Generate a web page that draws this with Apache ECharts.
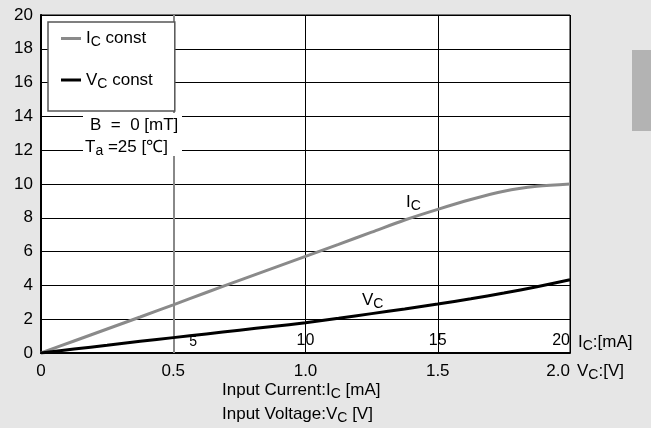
<!DOCTYPE html>
<html><head><meta charset="utf-8">
<script src="https://cdn.jsdelivr.net/npm/echarts@6/dist/echarts.min.js"></script>
<style>html,body{margin:0;padding:0;background:#e6e6e6;}#c{width:651px;height:428px;}</style>
</head><body><div id="c"></div>
<script>
var xValues = [0, 0.125, 0.25, 0.375, 0.5, 0.625, 0.75, 0.875, 1.0, 1.125, 1.25, 1.375, 1.5, 1.625, 1.75, 1.875, 2.0];
var icConst = [0, 0.71, 1.42, 2.13, 2.85, 3.58, 4.3, 5.01, 5.72, 6.43, 7.15, 7.87, 8.5, 9.08, 9.57, 9.86, 10.0];
var vcConst = [0, 0.23, 0.46, 0.69, 0.91, 1.13, 1.35, 1.57, 1.79, 2.05, 2.33, 2.61, 2.9, 3.21, 3.55, 3.92, 4.33];
var yTicks = [0, 2, 4, 6, 8, 10, 12, 14, 16, 18, 20];
var vTicks = ['0', '0.5', '1.0', '1.5', '2.0'];
var iTicks = ['', '5', '10', '15', '20'];

var FONT = 'Liberation Sans, Arial, sans-serif';
var rich = {
  n: {fontSize: 17, fontFamily: FONT, color: '#000'},
  s: {fontSize: 14, fontFamily: FONT, color: '#000', padding: [8, 0, 0, 0]}
};
function pairs(ys) { return xValues.map(function (x, i) { return [x, ys[i]]; }); }

var chart = echarts.init(document.getElementById('c'), null, {renderer: 'canvas'});
chart.setOption({
  backgroundColor: '#e6e6e6',
  animation: false,
  grid: {left: 41, top: 15, right: 81, bottom: 75, show: true, backgroundColor: '#fff', borderColor: '#000', borderWidth: 1},
  legend: {
    left: 48, top: 22, orient: 'vertical',
    backgroundColor: '#fff', borderColor: '#555', borderWidth: 1.5,
    padding: [8, 22, 20, 13], itemGap: 22, itemWidth: 20, itemHeight: 3, icon: 'rect',
    textStyle: {fontSize: 17, fontFamily: FONT, color: '#000', rich: rich},
    formatter: function (name) { return name === 'Ic' ? '{n|I}{s|C}{n| const}' : '{n|V}{s|C}{n| const}'; },
    data: ['Ic', 'Vc']
  },
  xAxis: [{
    type: 'value', min: 0, max: 2, interval: 0.5, position: 'bottom',
    axisLine: {show: true, lineStyle: {color: '#000', width: 2}},
    axisTick: {show: false},
    axisLabel: {margin: 10, fontSize: 17, fontFamily: FONT, color: '#000', alignMaxLabel: 'right',
      formatter: function (v) { return vTicks[Math.round(v / 0.5)]; }},
    splitLine: {show: true, lineStyle: {color: ['#000', '#888', '#000', '#000', '#000'], width: 1}}
  }, {
    type: 'value', min: 0, max: 20, interval: 5, position: 'bottom',
    axisLine: {show: false}, axisTick: {show: false}, splitLine: {show: false},
    axisLabel: {inside: true, margin: 4, fontSize: 16, fontFamily: FONT, color: '#000', alignMaxLabel: 'right',
      formatter: function (v) {
        var t = iTicks[Math.round(v / 5)];
        if (t === '5') return '{f|' + t + '}';
        return t;
      },
      rich: {f: {fontSize: 14, fontFamily: FONT, color: '#000', padding: [5, 0, 0, 40]}}
    }
  }],
  yAxis: [{
    type: 'value', min: 0, max: 20, interval: 2,
    axisLine: {show: true, lineStyle: {color: '#000', width: 1.5}},
    axisTick: {show: false},
    axisLabel: {margin: 8, fontSize: 17, fontFamily: FONT, color: '#000'},
    splitLine: {show: true, lineStyle: {color: '#000', width: 1}}
  }, {
    type: 'value', min: 0, max: 20, interval: 2, position: 'right',
    axisLine: {show: true, lineStyle: {color: '#000', width: 2}},
    axisTick: {show: false}, axisLabel: {show: false}, splitLine: {show: false}
  }],
  series: [{
    name: 'Ic', type: 'line', smooth: 0.3, symbol: 'none', data: pairs(icConst),
    lineStyle: {color: '#8a8a8a', width: 3}, itemStyle: {color: '#8a8a8a'}, z: 3,
    markLine: {silent: true, symbol: 'none', label: {show: false},
      lineStyle: {color: '#888', width: 2, type: 'solid'}, data: [{xAxis: 0.5}], z: 1}
  }, {
    name: 'Vc', type: 'line', smooth: 0.3, symbol: 'none', data: pairs(vcConst),
    lineStyle: {color: '#000', width: 3}, itemStyle: {color: '#000'}, z: 4
  }],
  graphic: [
    {type: 'rect', left: 632, top: 50, shape: {width: 19, height: 81}, style: {fill: '#b3b3b3'}},
    {type: 'rect', left: 83, top: 113, shape: {width: 99, height: 43}, style: {fill: '#fff'}, z: 50},
    {type: 'text', x: 90, y: 125, z: 51, style: {text: 'B  =  0 [mT]', font: '17px ' + FONT, fill: '#000', verticalAlign: 'middle'}},
    {type: 'text', x: 85, y: 147, z: 51, style: {text: '{n|T}{s|a}{n| =25 [℃]}', rich: rich, verticalAlign: 'middle'}},
    {type: 'text', x: 406, y: 202, z: 51, style: {text: '{n|I}{s|C}', rich: rich, verticalAlign: 'middle'}},
    {type: 'text', x: 362, y: 300, z: 51, style: {text: '{n|V}{s|C}', rich: rich, verticalAlign: 'middle'}},
    {type: 'text', x: 578, y: 342, z: 51, style: {text: '{n|I}{s|C}{n|:[mA]}', rich: rich, verticalAlign: 'middle'}},
    {type: 'text', x: 577, y: 371, z: 51, style: {text: '{n|V}{s|C}{n|:[V]}', rich: rich, verticalAlign: 'middle'}},
    {type: 'text', x: 222, y: 390, z: 51, style: {text: '{n|Input Current:I}{s|C}{n| [mA]}', rich: rich, verticalAlign: 'middle'}},
    {type: 'text', x: 222, y: 414, z: 51, style: {text: '{n|Input Voltage:V}{s|C}{n| [V]}', rich: rich, verticalAlign: 'middle'}}
  ]
});
</script></body></html>
